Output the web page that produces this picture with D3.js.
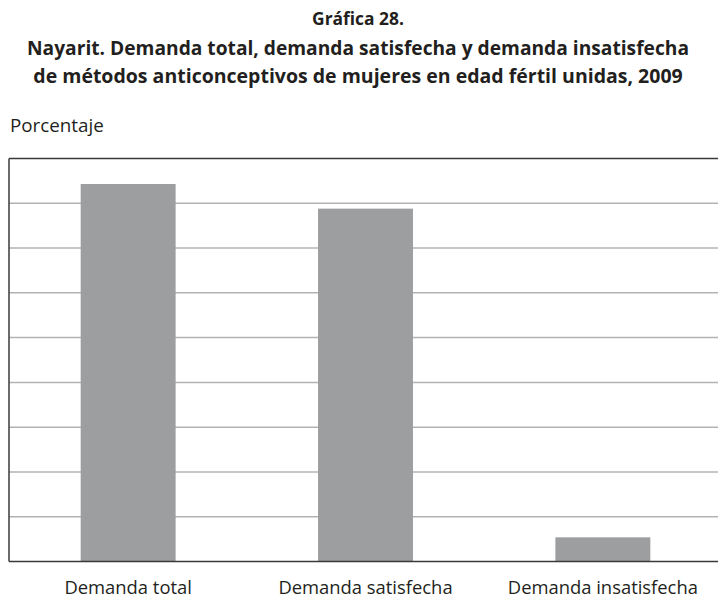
<!DOCTYPE html>
<html>
<head>
<meta charset="utf-8">
<script src="https://cdn.jsdelivr.net/npm/d3@7"></script>
<style>
  html, body { margin: 0; padding: 0; background: #fff; }
  svg { display: block; }
</style>
</head>
<body>
<svg id="chart" width="718" height="598"></svg>
<script>
// Demand for contraceptive methods, Nayarit 2009 (percent)
const categories = ["Demanda total", "Demanda satisfecha", "Demanda insatisfecha"];
const values = [84.3, 78.8, 5.4];
const yTicks = [0, 10, 20, 30, 40, 50, 60, 70, 80, 90];

const titleLines = [
  "Gráfica 28.",
  "Nayarit. Demanda total, demanda satisfecha y demanda insatisfecha",
  "de métodos anticonceptivos de mujeres en edad fértil unidas, 2009"
];
const yLabel = "Porcentaje";

const svg = d3.select("#chart");
const font = "'Open Sans', 'Noto Sans', sans-serif";
const ink = "#231f20";

const plot = { left: 9, right: 722, top: 158.5, bottom: 561.5 };

const x = d3.scaleBand()
  .domain(categories)
  .range([plot.left, plot.right])
  .paddingInner(0.6)
  .paddingOuter(0.302);

const y = d3.scaleLinear()
  .domain([0, 90])
  .range([plot.bottom, plot.top]);

// Titles
const titleY = [24.5, 54.5, 83];
const titleSize = [17.4, 19.2, 19.5];
svg.selectAll("text.title")
  .data(titleLines)
  .join("text")
  .attr("class", "title")
  .attr("x", 358)
  .attr("y", (d, i) => titleY[i])
  .attr("text-anchor", "middle")
  .style("font-family", font)
  .style("font-weight", "700")
  .style("font-size", (d, i) => titleSize[i] + "px")
  .style("fill", ink)
  .text(d => d);

svg.append("text")
  .attr("x", 10)
  .attr("y", 132)
  .style("font-family", font)
  .style("font-size", "18.8px")
  .style("fill", ink)
  .text(yLabel);

// Horizontal gridlines
svg.append("g")
  .selectAll("line")
  .data(yTicks.slice(1, -1))
  .join("line")
  .attr("x1", plot.left)
  .attr("x2", 718)
  .attr("y1", d => y(d))
  .attr("y2", d => y(d))
  .attr("stroke", "#b3b3b3")
  .attr("stroke-width", 1.5);

// Bars
svg.append("g")
  .selectAll("rect")
  .data(values)
  .join("rect")
  .attr("x", (d, i) => x(categories[i]))
  .attr("width", x.bandwidth())
  .attr("y", d => y(d))
  .attr("height", d => y(0) - y(d))
  .attr("fill", "#9d9ea0");

// Frame: top, left and baseline
const frame = svg.append("g").attr("stroke", "#3a3a3a").attr("stroke-width", 1.5).attr("fill", "none");
frame.append("line").attr("x1", plot.left).attr("x2", 718).attr("y1", y(90)).attr("y2", y(90));
frame.append("line").attr("x1", plot.left).attr("x2", plot.left).attr("y1", y(90)).attr("y2", y(0));
frame.append("line").attr("x1", plot.left).attr("x2", 718).attr("y1", y(0)).attr("y2", y(0));

// Category labels
const xAxis = d3.axisBottom(x).tickSize(0).tickPadding(0);
const gx = svg.append("g").attr("transform", `translate(0,${y(0)})`).call(xAxis);
gx.select(".domain").remove();
gx.selectAll("text")
  .attr("dy", null)
  .attr("y", 32.5)
  .style("font-family", font)
  .style("font-size", "18.4px")
  .style("fill", ink);
</script>
</body>
</html>
